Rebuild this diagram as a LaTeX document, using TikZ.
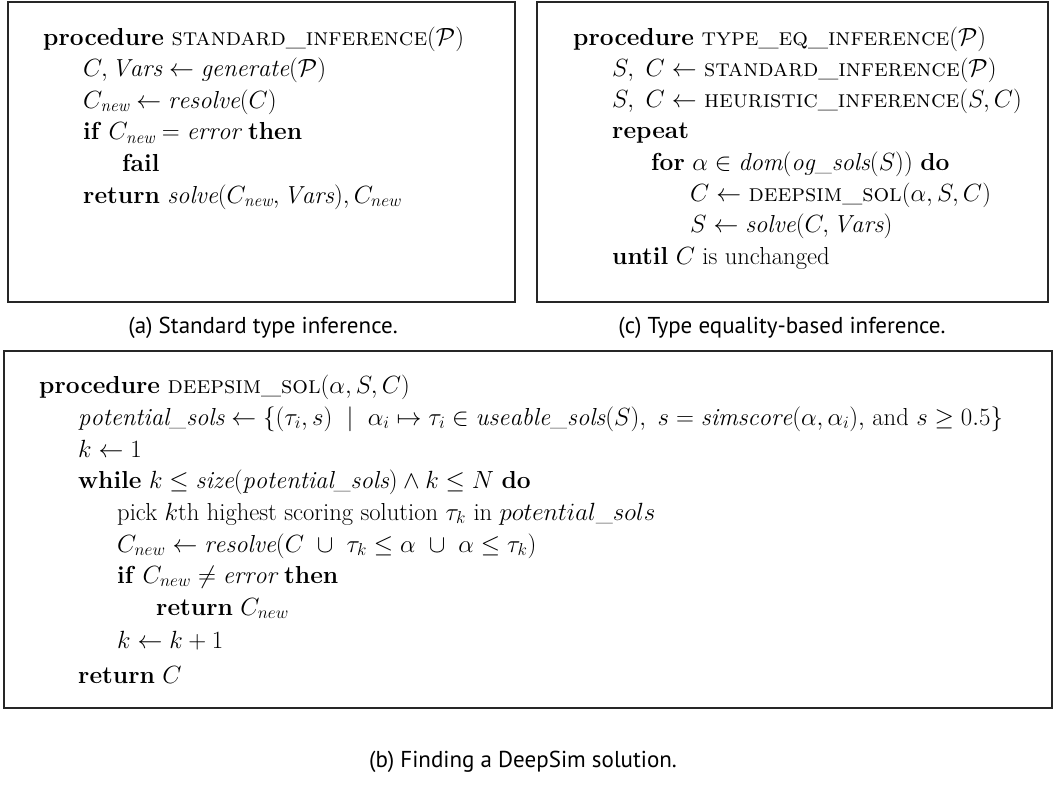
\documentclass[tikz,border=0pt]{standalone}
\usepackage{fontspec}
\newfontfamily\capfont{PT Sans}
\tikzset{
  frame/.style={draw=black!85, line width=1.2pt},
  ln/.style={anchor=base west, inner sep=0pt, font=\fontsize{24.6}{29}\selectfont},
  captxt/.style={anchor=base, inner sep=0pt, font=\capfont\fontsize{23}{27}\selectfont},
}
\newcommand{\kw}[1]{\textbf{#1}}
\newcommand{\mi}[1]{\mathit{#1}}
\begin{document}
\begin{tikzpicture}[x=1pt,y=-1pt]
\useasboundingbox (0,0) rectangle (1056,787);
% frames
\draw[frame] (8,2) rectangle (515,302);
\draw[frame] (537,2) rectangle (1048,302);
\draw[frame] (4,351) rectangle (1052,708);
% (a)
\node[ln] (a1) at (43,45) {\kw{procedure} \textsc{standard\_inference}($\mathcal{P}$)};
\node[ln] (a2) at (83,76.6) {$C, \mi{Vars} \gets \mi{generate}(\mathcal{P})$};
\node[ln] (a3) at (83,108.2) {$C_{\mi{new}} \gets \mi{resolve}(C)$};
\node[ln] (a4) at (83,139.8) {\kw{if} $C_{\mi{new}} = \mi{error}$ \kw{then}};
\node[ln] (a5) at (122,171.4) {\kw{fail}};
\node[ln] (a6) at (83,203) {\kw{return} $\mi{solve}(C_{\mi{new}}, \mi{Vars}), C_{new}$};
% (c)
\node[ln] (c1) at (573,45) {\kw{procedure} \textsc{type\_eq\_inference}($\mathcal{P}$)};
\node[ln] (c2) at (612,76.3) {$S,\ C \gets$ \textsc{standard\_inference}($\mathcal{P}$)};
\node[ln] (c3) at (612,107.6) {$S,\ C \gets$ \textsc{heuristic\_inference}($S, C$)};
\node[ln] (c4) at (612,138.9) {\kw{repeat}};
\node[ln] (c5) at (651,170.2) {\kw{for} $\alpha \in \mi{dom}(\mi{og\_sols}(S))$ \kw{do}};
\node[ln] (c6) at (690,201.5) {$C \gets$ \textsc{deepsim\_sol}($\alpha, S, C$)};
\node[ln] (c7) at (690,232.8) {$S \gets \mi{solve}(C, \mi{Vars})$};
\node[ln] (c8) at (612,264.5) {\kw{until} $C$ is unchanged};
% (b)
\node[ln] (b1) at (39,393) {\kw{procedure} \textsc{deepsim\_sol}($\alpha, S, C$)};
\node[ln] (b2) at (78,425) {$\mi{potential\_sols} \gets \{(\tau_i, s)\ \mid\ \alpha_i \mapsto \tau_i \in \mi{useable\_sols}(S),\ s = \mi{simscore}(\alpha, \alpha_i),$ and $s \geq 0.5\}$};
\node[ln] (b3) at (78,457) {$k \gets 1$};
\node[ln] (b4) at (78,488) {\kw{while} $k \leq \mi{size}(\mi{potential\_sols}) \wedge k \leq N$ \kw{do}};
\node[ln] (b5) at (117,520) {pick $k$th highest scoring solution $\tau_k$ in $potential\_sols$};
\node[ln] (b6) at (117,552) {$C_{new} \gets \mi{resolve}(C\ \cup\ \tau_k \leq \alpha\ \cup\ \alpha \leq \tau_k)$};
\node[ln] (b7) at (117,583) {\kw{if} $C_{new} \neq \mi{error}$ \kw{then}};
\node[ln] (b8) at (156,615) {\kw{return} $C_{new}$};
\node[ln] (b9) at (117,648) {$k \gets k + 1$};
\node[ln] (b10) at (78,683) {\kw{return} $C$};
% captions
\node[captxt] (capa) at (263,333) {(a) Standard type inference.};
\node[captxt] (capc) at (782,333) {(c) Type equality-based inference.};
\node[captxt] (capb) at (523,767) {(b) Finding a DeepSim solution.};
\end{tikzpicture}
\end{document}
